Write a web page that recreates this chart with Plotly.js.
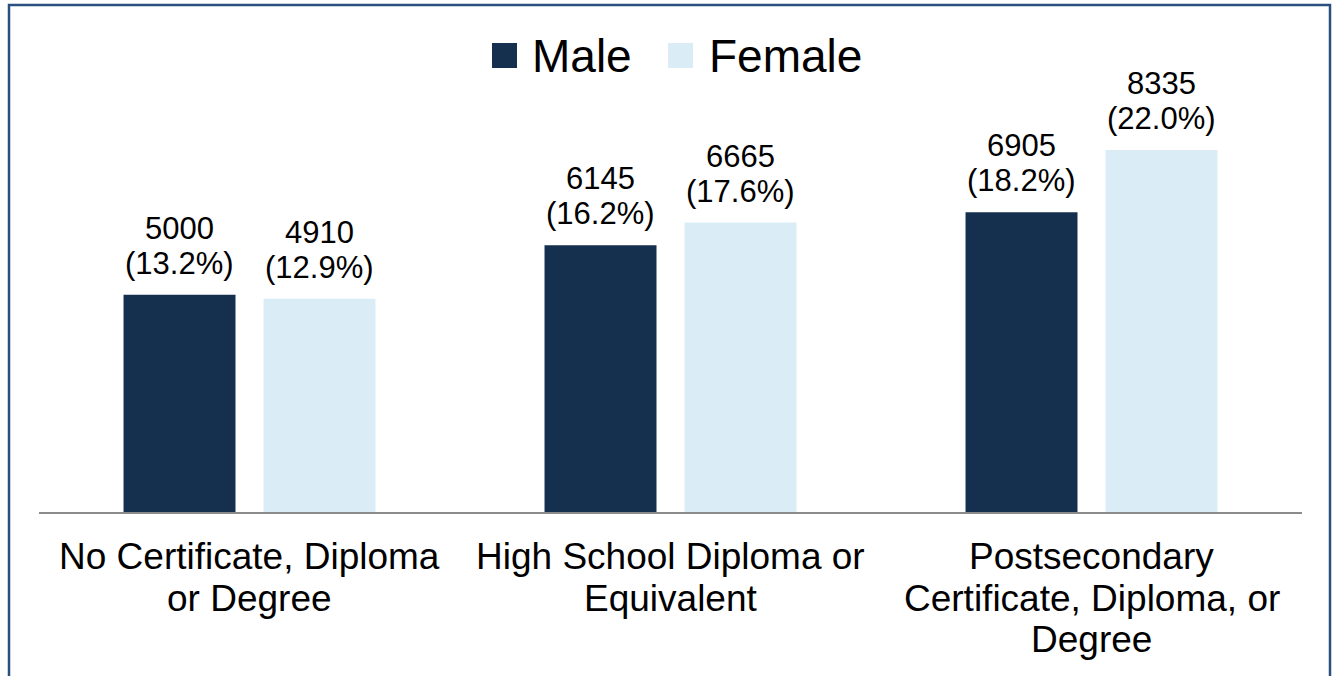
<!DOCTYPE html>
<html>
<head>
<meta charset="utf-8">
<script src="https://cdn.plot.ly/plotly-3.0.1.min.js"></script>
<style>
  html, body { margin: 0; padding: 0; background: #ffffff; }
  #chart { width: 1332px; height: 676px; }
</style>
</head>
<body>
<div id="chart"></div>
<script>
const categoryLines = [
  ["No Certificate, Diploma", "or Degree"],
  ["High School Diploma or", "Equivalent"],
  ["Postsecondary", "Certificate, Diploma, or", "Degree"]
];
const categories = categoryLines.map(l => l.join(" "));
const seriesNames = ["Male", "Female"];
const maleValues = [5000, 6145, 6905];
const femaleValues = [4910, 6665, 8335];
const malePct = [13.2, 16.2, 18.2];
const femalePct = [12.9, 17.6, 22.0];

const maleColor = "#15304f";
const femaleColor = "#daedf7";
const FONT = "Arial, 'Liberation Sans', sans-serif";
const BARGAP = 0.335;
const BARGROUPGAP = 0.2;

const traces = [
  {
    type: "bar", name: seriesNames[0], x: categories, y: maleValues,
    marker: { color: maleColor }, hoverinfo: "skip", showlegend: false
  },
  {
    type: "bar", name: seriesNames[1], x: categories, y: femaleValues,
    marker: { color: femaleColor }, hoverinfo: "skip", showlegend: false
  }
];

const annotations = [];
// value labels above bars (two lines each)
const slotOffset = (1 - BARGAP) / 4;
[[maleValues, malePct, -slotOffset], [femaleValues, femalePct, slotOffset]].forEach(([vals, pcts, off]) => {
  vals.forEach((v, i) => {
    annotations.push({
      xref: "x", yref: "y", x: i + off, y: v, xanchor: "center", yanchor: "bottom",
      yshift: 12, showarrow: false, text: "(" + pcts[i].toFixed(1) + "%)",
      font: { family: FONT, size: 31, color: "#000000" }
    });
    annotations.push({
      xref: "x", yref: "y", x: i + off, y: v, xanchor: "center", yanchor: "bottom",
      yshift: 47, showarrow: false, text: String(v),
      font: { family: FONT, size: 31, color: "#000000" }
    });
  });
});
// category labels below axis
categoryLines.forEach((lines, i) => {
  lines.forEach((line, j) => {
    annotations.push({
      xref: "x", yref: "paper", x: i, y: 0, xanchor: "center", yanchor: "bottom",
      yshift: -67 - 41.5 * j, showarrow: false, text: line,
      font: { family: FONT, size: 37, color: "#000000" }
    });
  });
});
// legend
annotations.push(
  { xref: "paper", yref: "paper", x: 0.3888, y: 1.1041, xanchor: "left", yanchor: "middle",
    text: seriesNames[0], showarrow: false, font: { family: FONT, size: 46, color: "#000000" } },
  { xref: "paper", yref: "paper", x: 0.5289, y: 1.1041, xanchor: "left", yanchor: "middle",
    text: seriesNames[1], showarrow: false, font: { family: FONT, size: 46, color: "#000000" } }
);

const layout = {
  width: 1332, height: 676,
  margin: { l: 39, r: 30, t: 99, b: 164 },
  paper_bgcolor: "#ffffff", plot_bgcolor: "#ffffff",
  font: { family: FONT, color: "#000000" },
  barmode: "group", bargap: BARGAP, bargroupgap: BARGROUPGAP,
  showlegend: false,
  xaxis: {
    type: "category", showline: true, linecolor: "#8c8c8c", linewidth: 2,
    ticks: "", showgrid: false, zeroline: false, showticklabels: false,
    fixedrange: true
  },
  yaxis: {
    range: [0, 9510], visible: false, showgrid: false, zeroline: false, fixedrange: true
  },
  shapes: [
    { type: "path", xref: "paper", yref: "paper",
      path: "M -0.02375,-0.5 L -0.02375,1.2276 L 1.02217,1.2276 L 1.02217,-0.5",
      line: { color: "#2b4f7e", width: 2.5 } },
    { type: "rect", xref: "paper", yref: "paper",
      x0: 0.35867, x1: 0.37846, y0: 1.07506, y1: 1.13559,
      fillcolor: maleColor, line: { width: 0 } },
    { type: "rect", xref: "paper", yref: "paper",
      x0: 0.49802, x1: 0.51781, y0: 1.07506, y1: 1.13559,
      fillcolor: femaleColor, line: { width: 0 } }
  ],
  annotations: annotations
};

Plotly.newPlot("chart", traces, layout, { displayModeBar: false, staticPlot: true });
</script>
</body>
</html>
